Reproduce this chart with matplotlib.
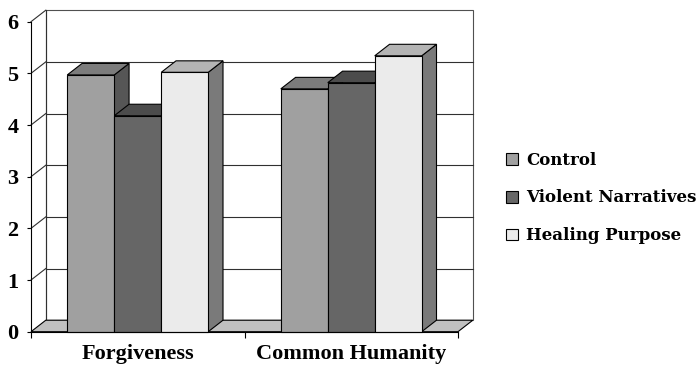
import matplotlib
matplotlib.use("Agg")
import matplotlib.pyplot as plt
from matplotlib.patches import Polygon, Rectangle, Patch

categories = ["Forgiveness", "Common Humanity"]
series = ["Control", "Violent Narratives", "Healing Purpose"]
control = [4.97, 4.70]
violent = [4.18, 4.82]
healing = [5.02, 5.34]
y_ticks = [0, 1, 2, 3, 4, 5, 6]

values = [control, violent, healing]
front_colors = ["#a0a0a0", "#666666", "#ebebeb"]
top_colors = ["#7c7c7c", "#4c4c4c", "#b4b4b4"]
side_colors = ["#565656", "#3e3e3e", "#7a7a7a"]

W, H = 700, 368
fig = plt.figure(figsize=(7, 3.68), dpi=100)
fig.patch.set_facecolor("white")

# front plane of the plot box in pixel terms
left_px, right_px = 31, 458
base_px, top_px = 331.7, 21.7
ax = fig.add_axes([left_px / W, (H - base_px) / H,
                   (right_px - left_px) / W, (base_px - top_px) / H])
ax.set_xlim(0, 2)
ax.set_ylim(0, 6)
ax.set_facecolor("none")

# depth offset of the 3-D box in data units
dx = 14.8 / ((right_px - left_px) / 2)
dy = 11.5 / ((base_px - top_px) / 6)

grid_c = "#303030"
lw = 0.8

# back wall
ax.add_patch(Rectangle((dx, dy), 2, 6, facecolor="white", edgecolor="#505050",
                       lw=lw, clip_on=False, zorder=1))
# gridlines on back wall and diagonal ticks on side wall
for k in y_ticks[1:-1]:
    ax.plot([dx, 2 + dx], [k + dy, k + dy], color=grid_c, lw=lw,
            clip_on=False, zorder=2)
for k in y_ticks[1:]:
    ax.plot([0, dx], [k, k + dy], color=grid_c, lw=lw, clip_on=False, zorder=2)
ax.plot([dx, dx], [dy, 6 + dy], color=grid_c, lw=lw, clip_on=False, zorder=2)

# floor
ax.add_patch(Polygon([(0, 0), (2, 0), (2 + dx, dy), (dx, dy)], closed=True,
                     facecolor="#c0c0c0", edgecolor="black", lw=lw,
                     clip_on=False, zorder=3))

# 3-D bars
bar_w = 0.22
n = len(series)
z = 4
for ci in range(len(categories)):
    center = ci + 0.5
    for si in range(n):
        h = values[si][ci]
        x0 = center - n * bar_w / 2 + si * bar_w
        x1 = x0 + bar_w
        side = [(x1, 0), (x1 + dx, dy), (x1 + dx, h + dy), (x1, h)]
        top = [(x0, h), (x1, h), (x1 + dx, h + dy), (x0 + dx, h + dy)]
        ax.add_patch(Polygon(side, closed=True, facecolor=side_colors[si],
                             edgecolor="black", lw=lw, clip_on=False, zorder=z))
        ax.add_patch(Polygon(top, closed=True, facecolor=top_colors[si],
                             edgecolor="black", lw=lw, clip_on=False, zorder=z))
        ax.add_patch(Rectangle((x0, 0), bar_w, h, facecolor=front_colors[si],
                               edgecolor="black", lw=lw, clip_on=False, zorder=z))
        z += 1

# axes lines and ticks
for s in ["top", "right"]:
    ax.spines[s].set_visible(False)
for s in ["left", "bottom"]:
    ax.spines[s].set_color("black")
    ax.spines[s].set_linewidth(lw)
    ax.spines[s].set_zorder(20)

tick_font = dict(family="Liberation Serif", weight="bold", size=16)
ax.set_yticks(y_ticks)
ax.set_yticklabels([str(t) for t in y_ticks], fontdict=tick_font)
ax.tick_params(axis="y", direction="out", length=3, width=lw, pad=6)

ax.set_xticks([0, 1, 2])
ax.set_xticklabels([])
ax.tick_params(axis="x", which="major", direction="out", length=4, width=lw)
ax.set_xticks([0.5, 1.5], minor=True)
ax.set_xticklabels(categories, minor=True, fontdict=tick_font)
ax.tick_params(axis="x", which="minor", length=0, pad=9)

handles = [Patch(facecolor=c, edgecolor="black", lw=lw) for c in front_colors]
fig.legend(handles, series, loc="center left",
           bbox_to_anchor=(506 / W, (H - 198) / H),
           frameon=False, borderpad=0, borderaxespad=0,
           handlelength=0.72, handleheight=0.72, handletextpad=0.5,
           labelspacing=1.25,
           prop=dict(family="DejaVu Serif", weight="bold", size=12))

fig.savefig("out.png", dpi=100)
